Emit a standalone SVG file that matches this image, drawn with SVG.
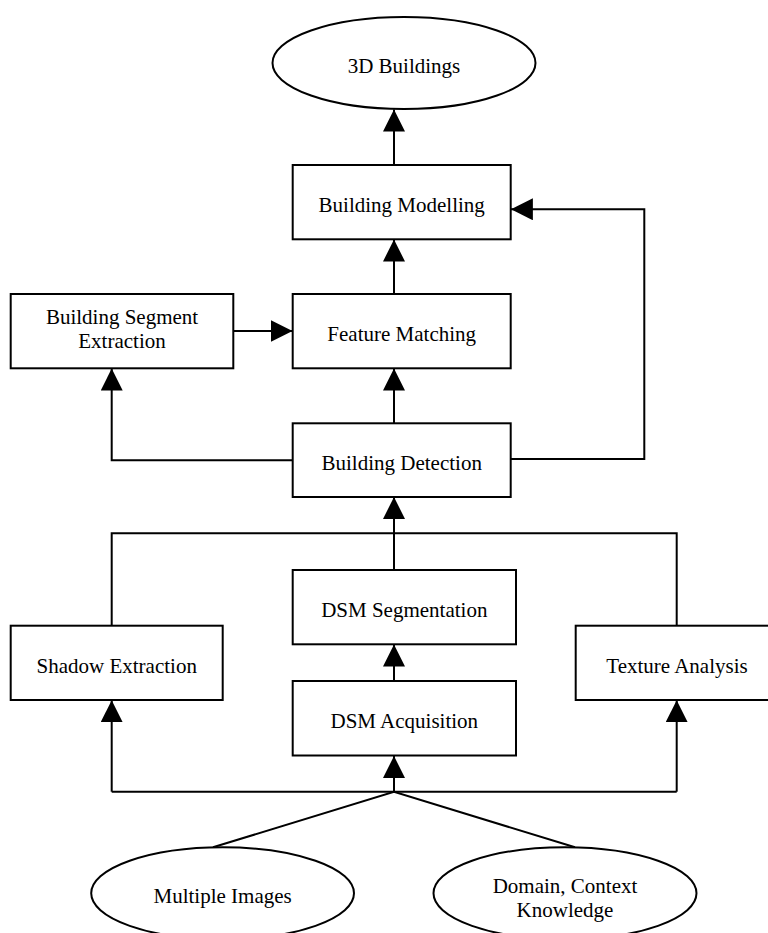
<svg xmlns="http://www.w3.org/2000/svg" width="768" height="933" viewBox="0 0 768 933">
<style>
.n{fill:#fff;stroke:#000;stroke-width:2}
.t{font-family:"Liberation Serif","Times New Roman",serif;font-size:21px;fill:#000;text-anchor:middle}
.c{fill:none;stroke:#000;stroke-width:2}
</style>
<defs>
<marker id="ah" markerUnits="userSpaceOnUse" markerWidth="22" markerHeight="22" viewBox="0 0 20 20" refX="20" refY="10" orient="auto">
<path d="M0,0 L20,10 L0,20 Z" fill="#000"/>
</marker>
</defs>
<rect width="768" height="933" fill="#fff"/>
<g id="connectors">
<path class="c" d="M394,165 L394,109.5" marker-end="url(#ah)"/>
<path class="c" d="M394,294 L394,239.5" marker-end="url(#ah)"/>
<path class="c" d="M394,423 L394,368.5" marker-end="url(#ah)"/>
<path class="c" d="M233,331 L292.5,331" marker-end="url(#ah)"/>
<path class="c" d="M292.7,460.3 L111.7,460.3 L111.7,368.5" marker-end="url(#ah)"/>
<path class="c" d="M510.7,459 L644.3,459 L644.3,209.3 L510.9,209.3" marker-end="url(#ah)"/>
<path class="c" d="M394,570 L394,497" marker-end="url(#ah)"/>
<path class="c" d="M111.7,625.7 L111.7,533.3 L676.7,533.3 L676.7,625.7"/>
<path class="c" d="M394,681 L394,644.5" marker-end="url(#ah)"/>
<path class="c" d="M111.7,791.7 L676.7,791.7"/>
<path class="c" d="M111.7,791.7 L111.7,700.2" marker-end="url(#ah)"/>
<path class="c" d="M394,791.7 L394,756" marker-end="url(#ah)"/>
<path class="c" d="M676.7,791.7 L676.7,700.2" marker-end="url(#ah)"/>
<path class="c" d="M213,847.3 L394,791.7 L575,847.3"/>
</g>
<g id="n3d"><ellipse class="n" cx="404" cy="63" rx="131.5" ry="46"/><text class="t" x="404" y="73">3D Buildings</text></g>
<g id="nbm"><rect class="n" x="292.7" y="165" width="218" height="74.3"/><text class="t" x="401.7" y="211.5">Building Modelling</text></g>
<g id="nbse"><rect class="n" x="10.7" y="294" width="222.6" height="74.3"/><text class="t" x="122" y="324">Building Segment</text><text class="t" x="122" y="348.3">Extraction</text></g>
<g id="nfm"><rect class="n" x="292.7" y="294" width="218" height="74.3"/><text class="t" x="401.7" y="340.5">Feature Matching</text></g>
<g id="nbd"><rect class="n" x="292.7" y="423.3" width="218" height="73.7"/><text class="t" x="401.7" y="470">Building Detection</text></g>
<g id="nse"><rect class="n" x="10.7" y="625.7" width="212" height="74.3"/><text class="t" x="116.7" y="672.7">Shadow Extraction</text></g>
<g id="nds"><rect class="n" x="292.7" y="570" width="223.3" height="74.3"/><text class="t" x="404.3" y="616.7">DSM Segmentation</text></g>
<g id="nda"><rect class="n" x="292.7" y="681" width="223.3" height="74.5"/><text class="t" x="404.3" y="728.3">DSM Acquisition</text></g>
<g id="nta"><rect class="n" x="575.7" y="625.7" width="205" height="74.3"/><text class="t" x="677" y="672.7">Texture Analysis</text></g>
<g id="nmi"><ellipse class="n" cx="222.6" cy="893.3" rx="131.4" ry="46"/><text class="t" x="222.6" y="903">Multiple Images</text></g>
<g id="ndk"><ellipse class="n" cx="565" cy="893.3" rx="131.5" ry="46"/><text class="t" x="565" y="893.3">Domain, Context</text><text class="t" x="565" y="916.7">Knowledge</text></g>
</svg>
